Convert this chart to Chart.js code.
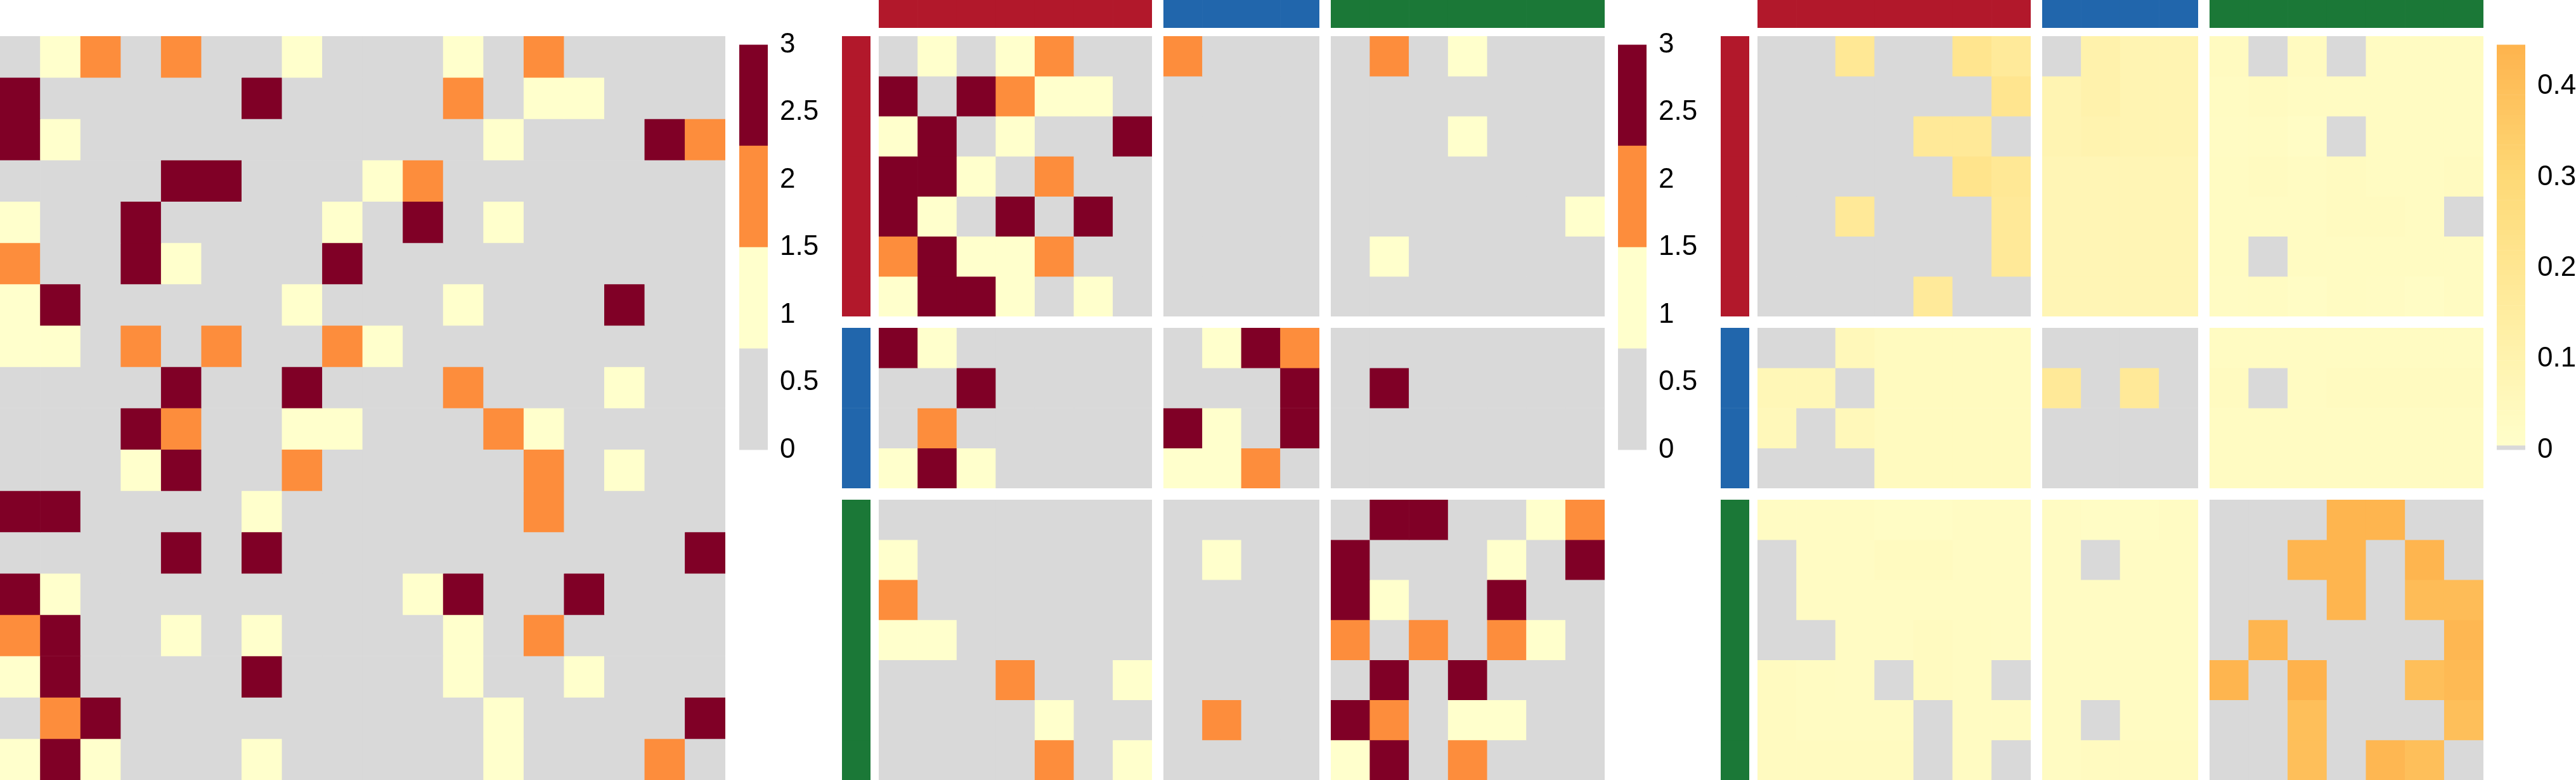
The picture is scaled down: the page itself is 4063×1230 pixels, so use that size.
<!DOCTYPE html>
<html>
<head>
<meta charset="utf-8">
<script src="https://cdn.jsdelivr.net/npm/chart.js"></script>
<style>
html,body{margin:0;padding:0;background:#ffffff;width:4063px;height:1230px;overflow:hidden;position:relative;}
canvas{position:absolute;display:block;}
</style>
</head>
<body>
<script>
// ---------------- DATA ----------------
const redNodes   = ['R1','R2','R3','R4','R5','R6','R7'];
const blueNodes  = ['B1','B2','B3','B4'];
const greenNodes = ['G1','G2','G3','G4','G5','G6','G7'];
const groupNames  = ['red','blue','green'];
const groupColors = ['#B2182B','#2166AC','#1B7837'];

const panel1Cols = ['n1','n2','n3','n4','n5','n6','n7','n8','n9','n10','n11','n12','n13','n14','n15','n16','n17','n18'];
// panel 1: discrete levels 0..3, one row per array
const panel1Values = [
  [0,1,2,0,2,0,0,1,0,0,0,1,0,2,0,0,0,0],
  [3,0,0,0,0,0,3,0,0,0,0,2,0,1,1,0,0,0],
  [3,1,0,0,0,0,0,0,0,0,0,0,1,0,0,0,3,2],
  [0,0,0,0,3,3,0,0,0,1,2,0,0,0,0,0,0,0],
  [1,0,0,3,0,0,0,0,1,0,3,0,1,0,0,0,0,0],
  [2,0,0,3,1,0,0,0,3,0,0,0,0,0,0,0,0,0],
  [1,3,0,0,0,0,0,1,0,0,0,1,0,0,0,3,0,0],
  [1,1,0,2,0,2,0,0,2,1,0,0,0,0,0,0,0,0],
  [0,0,0,0,3,0,0,3,0,0,0,2,0,0,0,1,0,0],
  [0,0,0,3,2,0,0,1,1,0,0,0,2,1,0,0,0,0],
  [0,0,0,1,3,0,0,2,0,0,0,0,0,2,0,1,0,0],
  [3,3,0,0,0,0,1,0,0,0,0,0,0,2,0,0,0,0],
  [0,0,0,0,3,0,3,0,0,0,0,0,0,0,0,0,0,3],
  [3,1,0,0,0,0,0,0,0,0,1,3,0,0,3,0,0,0],
  [2,3,0,0,1,0,1,0,0,0,0,1,0,2,0,0,0,0],
  [1,3,0,0,0,0,3,0,0,0,0,1,0,0,1,0,0,0],
  [0,2,3,0,0,0,0,0,0,0,0,0,1,0,0,0,0,3],
  [1,3,1,0,0,0,1,0,0,0,0,0,1,0,0,0,2,0]
];

// panel 2: discrete levels 0..3, rows/cols ordered red(7), blue(4), green(7)
const panel2Values = [
  [0,1,0,1,2,0,0, 2,0,0,0, 0,2,0,1,0,0,0],
  [3,0,3,2,1,1,0, 0,0,0,0, 0,0,0,0,0,0,0],
  [1,3,0,1,0,0,3, 0,0,0,0, 0,0,0,1,0,0,0],
  [3,3,1,0,2,0,0, 0,0,0,0, 0,0,0,0,0,0,0],
  [3,1,0,3,0,3,0, 0,0,0,0, 0,0,0,0,0,0,1],
  [2,3,1,1,2,0,0, 0,0,0,0, 0,1,0,0,0,0,0],
  [1,3,3,1,0,1,0, 0,0,0,0, 0,0,0,0,0,0,0],
  [3,1,0,0,0,0,0, 0,1,3,2, 0,0,0,0,0,0,0],
  [0,0,3,0,0,0,0, 0,0,0,3, 0,3,0,0,0,0,0],
  [0,2,0,0,0,0,0, 3,1,0,3, 0,0,0,0,0,0,0],
  [1,3,1,0,0,0,0, 1,1,2,0, 0,0,0,0,0,0,0],
  [0,0,0,0,0,0,0, 0,0,0,0, 0,3,3,0,0,1,2],
  [1,0,0,0,0,0,0, 0,1,0,0, 3,0,0,0,1,0,3],
  [2,0,0,0,0,0,0, 0,0,0,0, 3,1,0,0,3,0,0],
  [1,1,0,0,0,0,0, 0,0,0,0, 2,0,2,0,2,1,0],
  [0,0,0,2,0,0,1, 0,0,0,0, 0,3,0,3,0,0,0],
  [0,0,0,0,1,0,0, 0,2,0,0, 3,2,0,1,1,0,0],
  [0,0,0,0,2,0,1, 0,0,0,0, 1,3,0,2,0,0,0]
];

// panel 3: continuous weights (0 = grey), same ordering
const panel3Values = [
  [0,0,0.19,0,0,0.21,0.17, 0,0.11,0.09,0.09, 0.04,0,0.04,0,0.035,0.035,0.035],
  [0,0,0,0,0,0,0.21, 0.09,0.11,0.09,0.09, 0.035,0.04,0.035,0.035,0.035,0.035,0.035],
  [0,0,0,0,0.18,0.18,0, 0.09,0.10,0.09,0.09, 0.03,0.035,0.025,0,0.035,0.035,0.035],
  [0,0,0,0,0,0.22,0.19, 0.08,0.08,0.08,0.08, 0.035,0.04,0.035,0.04,0.035,0.035,0.04],
  [0,0,0.18,0,0,0,0.18, 0.08,0.08,0.08,0.08, 0.035,0.035,0.035,0.04,0.04,0.035,0],
  [0,0,0,0,0,0,0.18, 0.08,0.08,0.08,0.08, 0.035,0,0.035,0.035,0.035,0.035,0.035],
  [0,0,0,0,0.17,0,0, 0.08,0.08,0.08,0.08, 0.03,0.035,0.025,0.035,0.03,0.025,0.035],
  [0,0,0.06,0.045,0.045,0.045,0.045, 0,0,0,0, 0.035,0.035,0.035,0.035,0.035,0.035,0.035],
  [0.07,0.07,0,0.045,0.045,0.045,0.045, 0.18,0,0.18,0, 0.04,0,0.035,0.04,0.04,0.04,0.04],
  [0.06,0,0.06,0.045,0.045,0.045,0.045, 0,0,0,0, 0.035,0.035,0.035,0.035,0.035,0.035,0.035],
  [0,0,0,0.045,0.045,0.045,0.045, 0,0,0,0, 0.035,0.035,0.035,0.035,0.035,0.035,0.035],
  [0.03,0.03,0.03,0.025,0.025,0.03,0.03, 0.03,0.025,0.025,0.03, 0,0,0,0.44,0.44,0,0],
  [0,0.03,0.03,0.04,0.04,0.03,0.03, 0.03,0,0.03,0.03, 0,0,0.44,0.44,0,0.44,0],
  [0,0.03,0.03,0.03,0.03,0.03,0.03, 0.03,0.03,0.03,0.03, 0,0,0,0.44,0,0.41,0.41],
  [0,0,0.03,0.03,0.04,0.035,0.03, 0.03,0.03,0.03,0.03, 0,0.44,0,0,0,0,0.43],
  [0.04,0.035,0.03,0,0.04,0.035,0, 0.035,0.035,0.035,0.035, 0.44,0,0.45,0,0,0.40,0.42],
  [0.04,0.035,0.035,0.035,0,0.035,0.035, 0.035,0,0.035,0.035, 0,0,0.40,0,0,0,0.40],
  [0.04,0.04,0.04,0.04,0,0.035,0, 0.035,0.04,0.04,0.04, 0,0,0.40,0,0.43,0.40,0]
];

const levelColors  = ['#D9D9D9','#FFFFCC','#FD8D3C','#800026'];
const levelBreaks  = [0, 0.75, 1.5, 2.25, 3];
const legend1Ticks = [0, 0.5, 1, 1.5, 2, 2.5, 3];
const legend3Ticks = [0, 0.1, 0.2, 0.3, 0.4];
const legend3Max   = 0.446;
const weightStops  = [[0,'#FFFFCC'],[0.15,'#FFEDA0'],[0.30,'#FED976'],[0.45,'#FEB24C']];
const zeroColor    = '#D9D9D9';

// ---------------- HELPERS ----------------
const FONT = '"Liberation Sans", Arial, Helvetica, sans-serif';
function hexToRgb(h){h=h.replace('#','');return [parseInt(h.substr(0,2),16),parseInt(h.substr(2,2),16),parseInt(h.substr(4,2),16)];}
function weightColor(v){
  if (v <= 0) return zeroColor;
  for (let i=1;i<weightStops.length;i++){
    const [v0,c0]=weightStops[i-1], [v1,c1]=weightStops[i];
    if (v <= v1 || i===weightStops.length-1){
      let t=(v-v0)/(v1-v0); t=Math.max(0,Math.min(1,t));
      const a=hexToRgb(c0), b=hexToRgb(c1);
      return 'rgb('+a.map((x,k)=>Math.round(x+(b[k]-x)*t)).join(',')+')';
    }
  }
}
function levelColor(v){ return levelColors[v]; }

function makeCanvas(left, top, w, h){
  const c=document.createElement('canvas');
  c.width=w; c.height=h;
  c.style.left=left+'px'; c.style.top=top+'px';
  c.style.width=w+'px'; c.style.height=h+'px';
  document.body.appendChild(c);
  return c;
}

function heatmap(left, top, w, h, cols, rows, colorFn){
  const canvas = makeCanvas(left, top, w, h);
  const nRows = rows.length;
  const datasets = rows.map((row, r) => ({
    data: row.map(() => [r, r+1]),
    backgroundColor: row.map(colorFn),
    borderWidth: 0,
    barPercentage: 1,
    categoryPercentage: 1,
    grouped: false
  }));
  new Chart(canvas, {
    type: 'bar',
    data: { labels: cols, datasets },
    options: {
      responsive: false, animation: false, devicePixelRatio: 1,
      layout: { padding: 0 },
      plugins: { legend: { display: false }, tooltip: { enabled: false } },
      scales: {
        x: { display: false },
        y: { display: false, min: 0, max: nRows, reverse: true }
      }
    }
  });
}

function colorbar(left, barTop, barH, segments, ticksArr, maxVal){
  const padV = 32, axisW = 100, barW = 45;
  const canvas = makeCanvas(left, barTop - padV, barW + axisW, barH + 2*padV);
  const datasets = segments.map(s => ({
    data: [[s.lo, s.hi]],
    backgroundColor: s.color,
    borderWidth: 0, barPercentage: 1, categoryPercentage: 1, grouped: false
  }));
  new Chart(canvas, {
    type: 'bar',
    data: { labels: ['legend'], datasets },
    options: {
      responsive: false, animation: false, devicePixelRatio: 1,
      layout: { padding: { top: padV, bottom: padV, left: 0, right: 0 } },
      plugins: { legend: { display: false }, tooltip: { enabled: false } },
      scales: {
        x: { display: false },
        y: {
          position: 'right', min: 0, max: maxVal,
          grid: { display: false, drawTicks: false, tickLength: 0 },
          border: { display: false },
          ticks: { padding: 19, color: '#000000', font: { family: FONT, size: 44 },
                   callback: (v) => String(v) },
          afterBuildTicks: (s) => { s.ticks = ticksArr.map(v => ({ value: v })); },
          afterFit: (s) => { s.width = axisW; }
        }
      }
    }
  });
}

// ---------------- LAYOUT ----------------
const groups = [redNodes, blueNodes, greenNodes];
const groupStart = [0, 7, 11];

// Panel 1
heatmap(0, 57, 1144, 1173, panel1Cols, panel1Values, levelColor);
colorbar(1166, 57, 666,
  levelColors.map((c,i)=>({lo: levelBreaks[i], hi: levelBreaks[i+1], color: c})),
  legend1Ticks, 3);

function blockPanel(values, colorFn, colX, colW, rowY, rowH, annLeftX){
  for (let gi=0; gi<3; gi++){
    // top annotation
    heatmap(colX[gi], 0, colW[gi], 44, groups[gi], [groups[gi].map(()=>gi)], (g)=>groupColors[g]);
    // left annotation
    heatmap(annLeftX, rowY[gi], 45, rowH[gi], ['group'], groups[gi].map(()=>[gi]), (g)=>groupColors[g]);
    for (let gj=0; gj<3; gj++){
      const rows = values.slice(groupStart[gi], groupStart[gi]+groups[gi].length)
                         .map(r => r.slice(groupStart[gj], groupStart[gj]+groups[gj].length));
      heatmap(colX[gj], rowY[gi], colW[gj], rowH[gi], groups[gj], rows, colorFn);
    }
  }
}

const rowY = [57, 517, 788], rowH = [442, 253, 442];
// Panel 2
blockPanel(panel2Values, levelColor, [1386,1835,2099], [431,246,432], rowY, rowH, 1328);
colorbar(2552, 57, 666,
  levelColors.map((c,i)=>({lo: levelBreaks[i], hi: levelBreaks[i+1], color: c})),
  legend1Ticks, 3);

// Panel 3
blockPanel(panel3Values, weightColor, [2772,3221,3485], [431,246,432], rowY, rowH, 2714);
const seg3 = [{lo: 0, hi: 0.0047, color: zeroColor}];
const nSeg = 80;
for (let i=0;i<nSeg;i++){
  const lo = 0.0047 + (legend3Max-0.0047)*i/nSeg, hi = 0.0047 + (legend3Max-0.0047)*(i+1)/nSeg;
  seg3.push({lo, hi, color: weightColor((lo+hi)/2)});
}
colorbar(3938, 57, 666, seg3, legend3Ticks, legend3Max);
</script>
</body>
</html>
